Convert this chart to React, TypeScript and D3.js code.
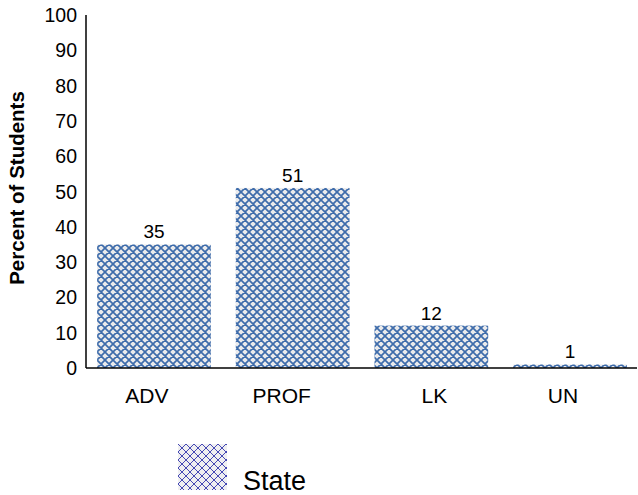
import React from "react";
import * as d3 from "d3";

const categories = ["ADV", "PROF", "LK", "UN"];
const stateValues = [35, 51, 12, 1];
const yTicks = [0, 10, 20, 30, 40, 50, 60, 70, 80, 90, 100];
const seriesName = "State";
const yTitle = "Percent of Students";
const labelNudge = [-7, -11, 3, -7];

const W = 638;
const H = 495;
const left = 86;
const x0 = 368;
const yTop = 15;

function latticePath(p: number) {
  return `M0,0 L${p},${p} M${p},0 L0,${p} M-1,${p - 1} L1,${p + 1} M${p - 1},-1 L${p + 1},1 M-1,1 L1,-1 M${p - 1},${p + 1} L${p + 1},${p - 1}`;
}

export default function App() {
  const x = d3.scaleBand<string>().domain(categories).range([left, 638]).paddingInner(0.18).paddingOuter(0.08);
  const y = d3.scaleLinear().domain([0, 100]).range([x0, yTop]);
  const font = "Arial, 'Liberation Sans', Helvetica, sans-serif";
  return (
    <svg width={W} height={H} style={{ position: "absolute", left: 0, top: 0 }} fontFamily={font}>
      <defs>
        <pattern id="lattice" patternUnits="userSpaceOnUse" width={8} height={8} x={97} y={0}>
          <rect width={8} height={8} fill="#ebebec" />
          <path d={latticePath(8)} stroke="#3e6cab" strokeWidth={1.7} />
        </pattern>
        <pattern id="latticeLeg" patternUnits="userSpaceOnUse" width={8} height={8} x={178} y={444}>
          <rect width={8} height={8} fill="#efeff1" />
          <path d={latticePath(8)} stroke="#4548b4" strokeWidth={1.0} />
        </pattern>
      </defs>
      <rect width={W} height={H} fill="#fff" />
      {categories.map((c, i) => (
        <g key={c}>
          <rect x={x(c)} y={y(stateValues[i])} width={x.bandwidth()} height={x0 - y(stateValues[i])} fill="url(#lattice)" />
          <text x={(x(c) as number) + x.bandwidth() / 2} y={y(stateValues[i]) - 6} textAnchor="middle" fontSize={19} fill="#000">
            {stateValues[i]}
          </text>
          <text x={(x(c) as number) + x.bandwidth() / 2 + labelNudge[i]} y={403} textAnchor="middle" fontSize={21} fill="#000">
            {c}
          </text>
        </g>
      ))}
      <line x1={left} x2={637} y1={x0} y2={x0} stroke="#000" strokeWidth={1.5} />
      <line x1={left} x2={left} y1={yTop} y2={x0} stroke="#000" strokeWidth={1.5} />
      {yTicks.map((t) => (
        <text key={t} x={77} y={y(t) + 7} textAnchor="end" fontSize={19.5} fill="#000">
          {t}
        </text>
      ))}
      <text transform={`translate(24,188) rotate(-90)`} textAnchor="middle" fontSize={20.5} fontWeight="bold" fill="#000">
        {yTitle}
      </text>
      <rect x={178} y={444} width={49} height={46} fill="url(#latticeLeg)" />
      <text x={243} y={490} fontSize={27} fill="#000">
        {seriesName}
      </text>
    </svg>
  );
}
